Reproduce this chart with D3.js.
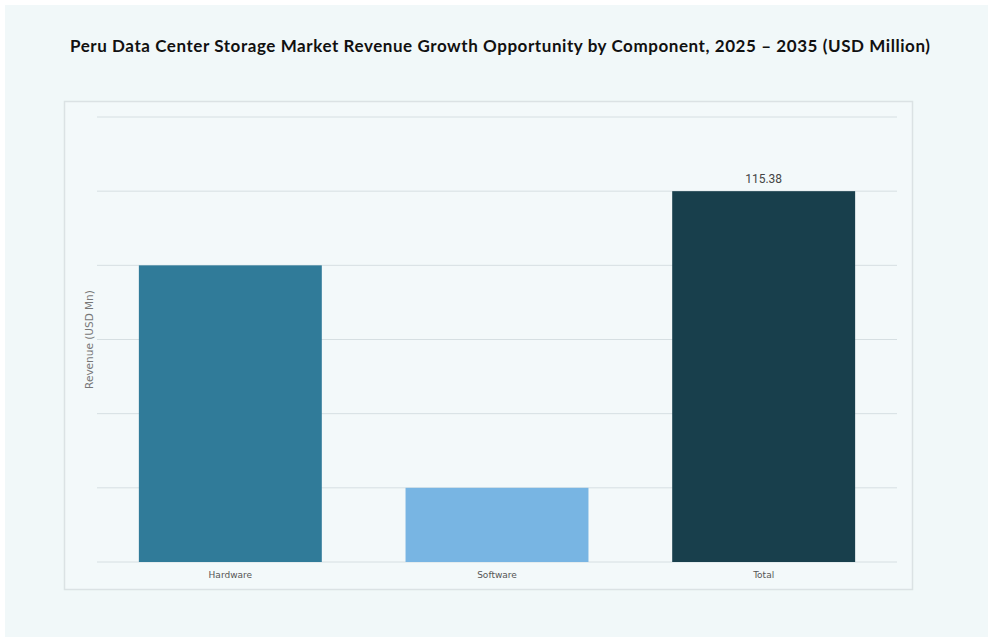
<!DOCTYPE html>
<html lang="en">
<head>
  <meta charset="UTF-8">
  <title>Peru Data Center Storage Market</title>
  <style>
    html, body { margin: 0; padding: 0; background: #fff; }
    svg { display: block; }
    .title { font: bold 17px "Lato", "DejaVu Sans", sans-serif; fill: #111; }
    .cat { font: 9px "DejaVu Sans", sans-serif; fill: #555; }
    .ylab { font: 10.5px "DejaVu Sans", sans-serif; fill: #777; }
    .val { font: 12px "Roboto", "DejaVu Sans", sans-serif; fill: #444; }
  </style>
</head>
<body>
  <svg width="993" height="642"></svg>

  <script src="https://d3js.org/d3.v7.min.js"></script>
  <script>
    // data
    const categories = ["Hardware", "Software", "Total"];
    const values = [92.30, 23.08, 115.38];
    const colors = ["#307b99", "#78b5e3", "#183f4c"];
    const step = 115.38 / 5;
    const tickValues = [0, 1, 2, 3, 4, 5, 6].map(k => k * step);

    const svg = d3.select("svg");

    // page panel
    svg.append("rect")
      .attr("x", 5).attr("y", 5)
      .attr("width", 983).attr("height", 632)
      .attr("fill", "#f1f8f9");

    svg.append("text")
      .attr("class", "title")
      .attr("x", 500).attr("y", 52)
      .attr("text-anchor", "middle")
      .attr("textLength", 860)
      .attr("lengthAdjust", "spacing")
      .text("Peru Data Center Storage Market Revenue Growth Opportunity by Component, 2025 \u2013 2035 (USD Million)");

    // plot frame
    svg.append("rect")
      .attr("x", 64.5).attr("y", 101.5)
      .attr("width", 848).attr("height", 488)
      .attr("fill", "#f3f9fa")
      .attr("stroke", "#dbe2e4")
      .attr("stroke-width", 1.5);

    const x = d3.scaleBand()
      .domain(categories)
      .range([97, 897])
      .paddingInner(0.314)
      .paddingOuter(0.157);

    const y = d3.scaleLinear()
      .domain([0, 6 * step])
      .range([562, 117]);

    // gridlines
    svg.append("g")
      .selectAll("line")
      .data(tickValues)
      .join("line")
      .attr("x1", 97).attr("x2", 897)
      .attr("y1", d => y(d)).attr("y2", d => y(d))
      .attr("stroke", "#d6dfe2")
      .attr("stroke-width", 1);

    // bars
    svg.append("g")
      .selectAll("rect")
      .data(categories)
      .join("rect")
      .attr("x", d => x(d))
      .attr("width", x.bandwidth())
      .attr("y", (d, i) => y(values[i]))
      .attr("height", (d, i) => y(0) - y(values[i]))
      .attr("fill", (d, i) => colors[i]);

    // value label on total
    svg.append("text")
      .attr("class", "val")
      .attr("x", x("Total") + x.bandwidth() / 2)
      .attr("y", y(values[2]) - 8)
      .attr("text-anchor", "middle")
      .text(values[2].toFixed(2));

    // category labels
    svg.append("g")
      .selectAll("text")
      .data(categories)
      .join("text")
      .attr("class", "cat")
      .attr("x", d => x(d) + x.bandwidth() / 2)
      .attr("y", 578)
      .attr("text-anchor", "middle")
      .text(d => d);

    svg.append("text")
      .attr("class", "ylab")
      .attr("transform", `translate(93,${(y(0) + y(6 * step)) / 2}) rotate(-90)`)
      .attr("text-anchor", "middle")
      .text("Revenue (USD Mn)");
  </script>
</body>
</html>
